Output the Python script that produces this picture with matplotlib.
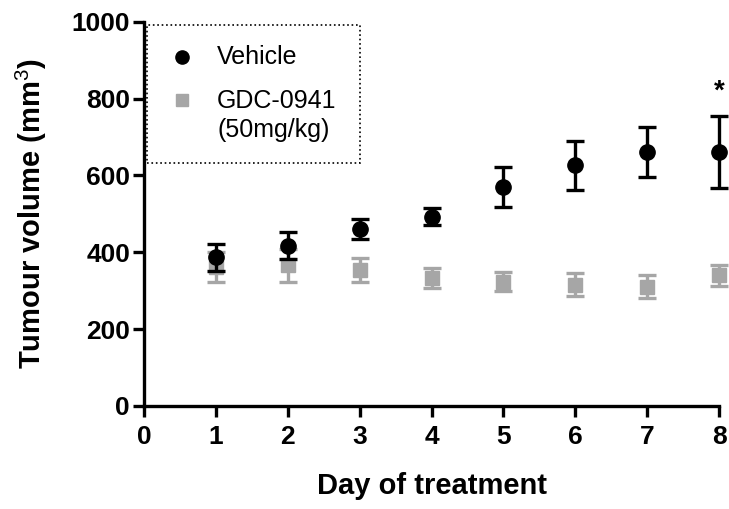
import matplotlib
matplotlib.use("Agg")
import matplotlib.pyplot as plt
from matplotlib.patches import Rectangle

plt.rcParams["font.family"] = ["Liberation Sans", "DejaVu Sans"]
plt.rcParams["mathtext.fontset"] = "custom"
plt.rcParams["mathtext.rm"] = "Liberation Sans"
plt.rcParams["mathtext.bf"] = "Liberation Sans:bold"

days = [1, 2, 3, 4, 5, 6, 7, 8]

vehicle_mean = [387, 417, 461, 492, 571, 626, 662, 661]
vehicle_err = [35, 35, 26, 22, 52, 63, 65, 93]

gdc_mean = [362, 366, 353, 333, 323, 316, 310, 340]
gdc_err = [39, 43, 31, 25, 25, 29, 30, 27]

x_ticks = [0, 1, 2, 3, 4, 5, 6, 7, 8]
y_ticks = [0, 200, 400, 600, 800, 1000]

BLACK = "#000000"
GREY = "#a6a6a6"

fig = plt.figure(figsize=(7.29, 5.09), dpi=100)
ax = fig.add_axes([0.1975, 0.2024, 0.789, 0.755])

series = [
    (gdc_mean, gdc_err, "s", GREY, 9.5, 2),
    (vehicle_mean, vehicle_err, "o", BLACK, 11, 3),
]
for mean, err, marker, colour, size, z in series:
    cont = ax.errorbar(days, mean, yerr=err, fmt=marker, color=colour, ms=size,
                       elinewidth=2.4, capsize=6.5, capthick=2.4, zorder=z)
    # last day sits right on the axis end, don't cut it off
    for art in cont.get_children():
        art.set_clip_on(False)

# significance marker on the last day
ax.text(days[-1], vehicle_mean[-1] + vehicle_err[-1] + 30, "*", ha="center",
        va="bottom", fontsize=20, fontweight="bold")

ax.set_xlim(0, 8)
ax.set_ylim(0, 1000)
ax.set_xticks(x_ticks)
ax.set_yticks(y_ticks)
ax.spines["top"].set_visible(False)
ax.spines["right"].set_visible(False)
for side in ("left", "bottom"):
    ax.spines[side].set_linewidth(2.4)
    ax.spines[side].set_capstyle("projecting")
ax.tick_params(width=2.4, length=8, labelsize=19)
ax.tick_params(axis="y", pad=2)
ax.tick_params(axis="x", pad=6)
for lbl in ax.get_xticklabels() + ax.get_yticklabels():
    lbl.set_fontweight("bold")

ax.set_xlabel("Day of treatment", fontsize=21, fontweight="bold", labelpad=16)
ax.set_ylabel(r"Tumour volume (mm$^{3}$)", fontsize=21, fontweight="bold", labelpad=16)

# legend drawn by hand (GraphPad style: marker lines up with first text line,
# dotted frame); everything in axes fraction
box = Rectangle((0.0055, 0.632), 0.37, 0.359, transform=ax.transAxes,
                fill=False, edgecolor=BLACK, linestyle=":", linewidth=1.2,
                clip_on=False, zorder=4)
ax.add_patch(box)
ax.plot([0.0655], [0.908], "o", color=BLACK, ms=9.5, transform=ax.transAxes,
        clip_on=False, zorder=5)
ax.plot([0.0655], [0.796], "s", color=GREY, ms=8.5, transform=ax.transAxes,
        clip_on=False, zorder=5)
ax.text(0.127, 0.889, "Vehicle", fontsize=18, va="baseline",
        transform=ax.transAxes)
ax.text(0.127, 0.776, "GDC-0941", fontsize=18, va="baseline",
        transform=ax.transAxes)
ax.text(0.127, 0.701, "(50mg/kg)", fontsize=18, va="baseline",
        transform=ax.transAxes)

fig.savefig("out.png", dpi=100)
